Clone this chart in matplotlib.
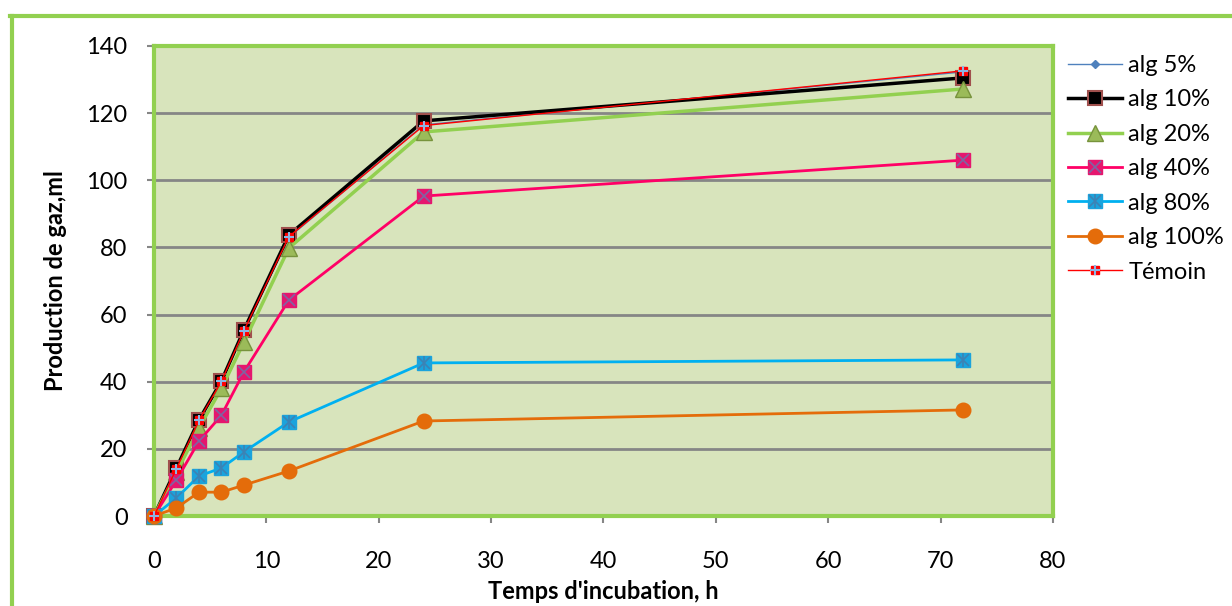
import numpy as np
import matplotlib.pyplot as plt
from matplotlib.lines import Line2D

plt.rcParams['font.family'] = ['Lato', 'DejaVu Sans']

# incubation times (h)
temps = [0, 2, 4, 6, 8, 12, 24, 72]

# gas production (ml) for each treatment
alg5 = [0, 14.0, 28.4, 40.0, 55.0, 83.0, 116.5, 132.3]
alg10 = [0, 14.3, 28.6, 40.2, 55.4, 83.7, 117.7, 130.5]
alg20 = [0, 13.0, 26.2, 38.0, 51.8, 79.8, 114.4, 127.2]
alg40 = [0, 10.7, 22.3, 30.0, 42.9, 64.3, 95.3, 106.0]
alg80 = [0, 5.4, 11.9, 14.3, 19.1, 28.0, 45.6, 46.5]
alg100 = [0, 2.4, 7.1, 7.1, 9.2, 13.4, 28.3, 31.6]
temoin = [0, 14.1, 28.5, 40.1, 55.2, 83.2, 116.3, 132.6]

y_ticks = [0, 20, 40, 60, 80, 100, 120, 140]
x_ticks = [0, 10, 20, 30, 40, 50, 60, 70, 80]

fig = plt.figure(figsize=(12.32, 6.06), dpi=100)
ax = fig.add_axes([0.125, 0.1485, 0.7297, 0.7756])
ax.set_facecolor('#D8E4BC')

# outer green frame (right/bottom sides fall outside the picture)
fig.add_artist(Line2D([10/1232, 1], [1 - 16/606] * 2, color='#92D050', lw=3, transform=fig.transFigure))
fig.add_artist(Line2D([12/1232] * 2, [0, 1 - 16/606], color='#92D050', lw=3, transform=fig.transFigure))

ax.yaxis.grid(True, color='#868686', lw=2)
ax.set_axisbelow(True)

t = np.array(temps)
kw = dict(zorder=3, clip_on=False)
h5, = ax.plot(t, alg5, color='#4F81BD', lw=1, marker='D', ms=4, mfc='#4F81BD', mec='#4F81BD', **kw)
h10, = ax.plot(t, alg10, color='black', lw=2.5, marker='s', ms=10, mfc='black', mec='#A0504D', mew=1.5, **kw)
h20, = ax.plot(t, alg20, color='#92D050', lw=2.5, marker='^', ms=11, mfc='#9BBB59', mec='#77933C', mew=1, **kw)
h40a, = ax.plot(t, alg40, color='#FF0066', lw=2, marker='s', ms=10, mfc='#E5166E', mec='#E5166E', **kw)
h40b, = ax.plot(t, alg40, ls='none', marker='x', ms=9, mec='#7F64A2', mew=1.2, **kw)
h80a, = ax.plot(t, alg80, color='#00B0F0', lw=2, marker='s', ms=10, mfc='#1BA3DC', mec='#1BA3DC', **kw)
h80b, = ax.plot(t, alg80, ls='none', marker='x', ms=9, mec='#3C82B4', mew=1.2, **kw)
h80c, = ax.plot(t, alg80, ls='none', marker='|', ms=10, mec='#3C82B4', mew=1.2, **kw)
h100, = ax.plot(t, alg100, color='#E46C0A', lw=2, marker='o', ms=10.5, mfc='#E46C0A', mec='#E46C0A', **kw)
hta, = ax.plot(t, temoin, color='red', lw=1, marker='s', ms=6, mfc='red', mec='red', **kw)
htb, = ax.plot(t, temoin, ls='none', marker='+', ms=7, mec='#8EB4E3', mew=1.5, **kw)

ax.set_xlim(0, 80)
ax.set_ylim(0, 140)
ax.set_xticks(x_ticks)
ax.set_yticks(y_ticks)
ax.tick_params(axis='both', labelsize=17, color='#868686', length=5, width=1.5)
ax.tick_params(axis='x', pad=20)
ax.tick_params(axis='y', pad=14)

for side in ['top', 'right', 'left', 'bottom']:
    ax.spines[side].set_color('#92D050')
    ax.spines[side].set_linewidth(3)

ax.set_xlabel("Temps d'incubation, h", fontsize=17, fontweight='bold', labelpad=6)
ax.set_ylabel('Production de gaz,ml', fontsize=17, fontweight='bold', labelpad=14)

handles = [h5, h10, h20, (h40a, h40b), (h80a, h80b, h80c), h100, (hta, htb)]
labels = ['alg 5%', 'alg 10%', 'alg 20%', 'alg 40%', 'alg 80%', 'alg 100%', 'Témoin']
ax.legend(handles, labels, loc='upper left', bbox_to_anchor=(1.0167, 0.981), frameon=False,
          fontsize=17, numpoints=1, handlelength=2.3, labelspacing=0.57, handletextpad=0.25,
          borderpad=0, borderaxespad=0)

plt.savefig('out.png', dpi=100)
